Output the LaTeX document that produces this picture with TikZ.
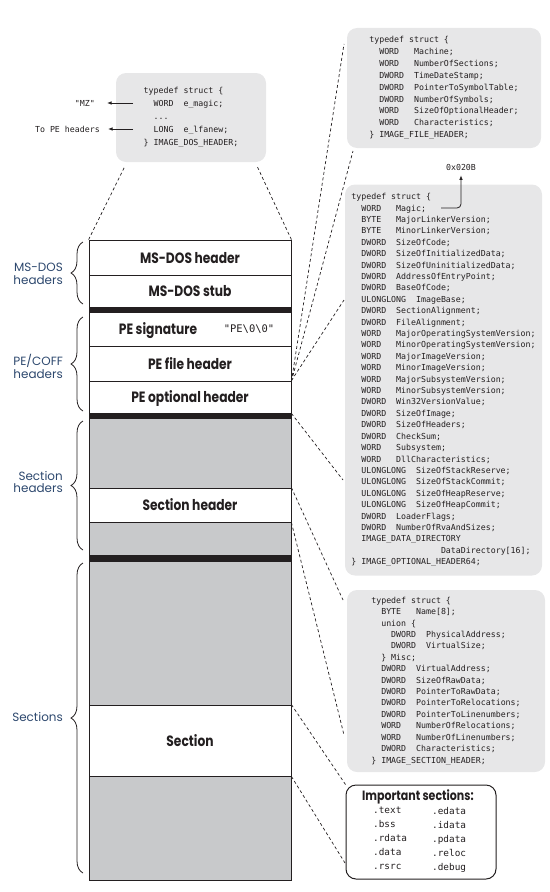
\documentclass[tikz,border=0pt]{standalone}
\usepackage{fontspec}
\setmonofont{DejaVu Sans Mono}
\newfontfamily\hdrfont{Poppins}[FakeStretch=0.82]
\newfontfamily\lblfont{Poppins}
\usepackage{xcolor}
\usepackage{tikz}
\usetikzlibrary{arrows.meta,decorations.pathreplacing}

\definecolor{blockgray}{RGB}{200,201,203}
\definecolor{codegray}{RGB}{231,231,232}
\definecolor{barblack}{RGB}{35,31,32}
\definecolor{labelblue}{RGB}{45,72,110}

\begin{document}
\begin{tikzpicture}[x=1bp,y=-1bp,>={Latex[length=4.5bp,width=3.5bp]},
  row/.style={draw=barblack,line width=0.8bp,minimum width=202bp,inner sep=0pt,text height=11bp,text depth=0pt,
    font=\hdrfont\bfseries\fontsize{15}{15}\selectfont,text=barblack},
  filler/.style={row,fill=blockgray},
  bar/.style={draw=barblack,fill=barblack,minimum width=202bp,inner sep=0pt,line width=0.8bp},
  rowtxt/.style={inner sep=0pt,text height=11bp,text depth=0pt,font=\hdrfont\bfseries\fontsize{15}{15}\selectfont,text=barblack},
  codebox/.style={fill=codegray,rounded corners=10bp,align=left,inner sep=0pt,text=barblack,
    font=\ttfamily\fontsize{8.3}{11.45}\selectfont},
  codelbl/.style={inner sep=0pt,text=barblack,font=\ttfamily\fontsize{8.3}{10}\selectfont},
  side/.style={align=right,anchor=east,inner sep=0pt,text=labelblue,font=\lblfont\fontsize{12}{13}\selectfont},
  brace/.style={decorate,decoration={brace,amplitude=12bp},draw=barblack,line width=0.8bp},
  guide/.style={draw=barblack,line width=0.7bp,dash pattern=on 3bp off 2.5bp},
  ptr/.style={->,draw=barblack,line width=0.8bp}
]
  \useasboundingbox (0,0) rectangle (550,892);

  % the file layout column
  \node[row,minimum height=35bp] (dosHdr) at (190,257.5) {MS-DOS header};
  \node[row,minimum height=32bp] (dosStub) at (190,291) {MS-DOS stub};
  \node[bar,minimum height=5bp] (barA) at (190,309.5) {};
  \node[row,minimum height=34bp] (peSig) at (190,329) {};
  \node[rowtxt] (sigName) at (158,329) {PE signature};
  \node[codelbl,font=\ttfamily\fontsize{10.5}{11}\selectfont] (sigVal) at (249,329) {"PE\textbackslash0\textbackslash0"};
  \node[row,minimum height=35bp] (peFile) at (190,363.5) {PE file header};
  \node[row,minimum height=32bp] (peOpt) at (190,397) {PE optional header};
  \node[bar,minimum height=5bp] (barB) at (190,415.5) {};
  \node[filler,minimum height=70bp] (shdrTop) at (190,453) {};
  \node[row,minimum height=34bp] (secHdr) at (190,505) {Section header};
  \node[filler,minimum height=33bp] (shdrBot) at (190,538.5) {};
  \node[bar,minimum height=6bp] (barC) at (190,558) {};
  \node[filler,minimum height=144bp] (sectTop) at (190,633) {};
  \node[row,minimum height=71bp] (sect) at (190,740.5) {Section};
  \node[filler,minimum height=104bp] (sectBot) at (190,828) {};

  % braces and their labels
  \draw[brace] (83,304) -- (83,242);
  \draw[brace] (83,411) -- (83,317);
  \draw[brace] (83,550) -- (83,421);
  \draw[brace] (83,873) -- (83,563);
  \node[side] (lblDos) at (63,274) {MS-DOS\\headers};
  \node[side] (lblPe) at (63,366) {PE/COFF\\headers};
  \node[side] (lblShdr) at (63,482) {Section\\headers};
  \node[side] (lblSect) at (63,717) {Sections};

  % struct boxes
  \node[codebox,minimum width=150bp,minimum height=89bp,font=\ttfamily\fontsize{8.3}{13}\selectfont] (dosBox) at (191,117.5) {%
typedef struct \{\\
~~WORD~~e\_magic;\\
~~...\\
~~LONG~~e\_lfanew;\\
\} IMAGE\_DOS\_HEADER;};

  \node[codebox,minimum width=194bp,minimum height=120bp,font=\ttfamily\fontsize{8.3}{11.9}\selectfont] (fileBox) at (444,88) {%
typedef struct \{\\
~~WORD~~~Machine;\\
~~WORD~~~NumberOfSections;\\
~~DWORD~~TimeDateStamp;\\
~~DWORD~~PointerToSymbolTable;\\
~~DWORD~~NumberOfSymbols;\\
~~WORD~~~SizeOfOptionalHeader;\\
~~WORD~~~Characteristics;\\
\} IMAGE\_FILE\_HEADER;};

  \node[codebox,minimum width=197bp,minimum height=391bp] (optBox) at (443.5,380) {%
typedef struct \{\\
~~WORD~~~Magic;\\
~~BYTE~~~MajorLinkerVersion;\\
~~BYTE~~~MinorLinkerVersion;\\
~~DWORD~~SizeOfCode;\\
~~DWORD~~SizeOfInitializedData;\\
~~DWORD~~SizeOfUninitializedData;\\
~~DWORD~~AddressOfEntryPoint;\\
~~DWORD~~BaseOfCode;\\
~~ULONGLONG~~ImageBase;\\
~~DWORD~~SectionAlignment;\\
~~DWORD~~FileAlignment;\\
~~WORD~~~MajorOperatingSystemVersion;\\
~~WORD~~~MinorOperatingSystemVersion;\\
~~WORD~~~MajorImageVersion;\\
~~WORD~~~MinorImageVersion;\\
~~WORD~~~MajorSubsystemVersion;\\
~~WORD~~~MinorSubsystemVersion;\\
~~DWORD~~Win32VersionValue;\\
~~DWORD~~SizeOfImage;\\
~~DWORD~~SizeOfHeaders;\\
~~DWORD~~CheckSum;\\
~~WORD~~~Subsystem;\\
~~WORD~~~DllCharacteristics;\\
~~ULONGLONG~~SizeOfStackReserve;\\
~~ULONGLONG~~SizeOfStackCommit;\\
~~ULONGLONG~~SizeOfHeapReserve;\\
~~ULONGLONG~~SizeOfHeapCommit;\\
~~DWORD~~LoaderFlags;\\
~~DWORD~~NumberOfRvaAndSizes;\\
~~IMAGE\_DATA\_DIRECTORY\\
~~~~~~~~~~~~~~~~~~DataDirectory[16];\\
\} IMAGE\_OPTIONAL\_HEADER64;};

  \node[codebox,minimum width=198bp,minimum height=182bp] (secBox) at (446,681) {%
typedef struct \{\\
~~BYTE~~~Name[8];\\
~~union \{\\
~~~~DWORD~~PhysicalAddress;\\
~~~~DWORD~~VirtualSize;\\
~~\} Misc;\\
~~DWORD~~VirtualAddress;\\
~~DWORD~~SizeOfRawData;\\
~~DWORD~~PointerToRawData;\\
~~DWORD~~PointerToRelocations;\\
~~DWORD~~PointerToLinenumbers;\\
~~WORD~~~NumberOfRelocations;\\
~~WORD~~~NumberOfLinenumbers;\\
~~DWORD~~Characteristics;\\
\} IMAGE\_SECTION\_HEADER;};

  % important sections
  \node[draw=barblack,fill=white,line width=1bp,rounded corners=10bp,minimum width=150bp,minimum height=94bp] (impBox) at (421,832) {};
  \node[anchor=west,inner sep=0pt,text=barblack,font=\hdrfont\bfseries\fontsize{13.5}{14}\selectfont] (impTitle) at (362,797) {Important sections:};
  \node[anchor=north west,align=left,inner sep=0pt,text=barblack,font=\ttfamily\fontsize{9.4}{14}\selectfont] (impLeft) at (373,807) {.text\\.bss\\.rdata\\.data\\.rsrc};
  \node[anchor=north west,align=left,inner sep=0pt,text=barblack,font=\ttfamily\fontsize{9.4}{14}\selectfont] (impRight) at (432,807) {.edata\\.idata\\.pdata\\.reloc\\.debug};

  % pointers
  \coordinate (mzFrom) at (133,103);
  \coordinate (lfaFrom) at (133,129);
  \node[codelbl,anchor=east] (mzTxt) at (95,103) {"MZ"};
  \node[codelbl,anchor=east] (toPE) at (100,129) {To PE headers};
  \draw[ptr,shorten >=12bp] (mzFrom) -- (mzTxt.east);
  \draw[ptr,shorten >=8bp] (lfaFrom) -- (toPE.east);

  \coordinate (magicEnd) at (441,208);
  \node[codelbl] (hexVal) at (461,167) {0x020B};
  \draw[ptr,rounded corners=4bp,shorten >=5bp] (magicEnd) -| (hexVal.south);

  % zoom lines
  \coordinate (dosL) at (125,166);
  \coordinate (dosR) at (257,166);
  \coordinate (fileTop) at (344,44);
  \coordinate (fileBot) at (353,151);
  \coordinate (optTop) at (344,300);
  \coordinate (optBot) at (343,480);
  \coordinate (secTop) at (343,600);
  \coordinate (secBot) at (344,735);
  \coordinate (impBot) at (345,863);
  \draw[guide] (dosHdr.north west) -- (dosL);
  \draw[guide] (dosHdr.north east) -- (dosR);
  \draw[guide] (peFile.south east) -- (fileTop);
  \draw[guide] (peFile.south east) -- (fileBot);
  \draw[guide] (peOpt.north east) -- (optTop);
  \draw[guide] (peOpt.south east) -- (optBot);
  \draw[guide] (secHdr.north east) -- (secTop);
  \draw[guide] (secHdr.south east) -- (secBot);
  \draw[guide] (sect.north east) -- (impBox.north west);
  \draw[guide] (sect.south east) -- (impBot);
\end{tikzpicture}
\end{document}
